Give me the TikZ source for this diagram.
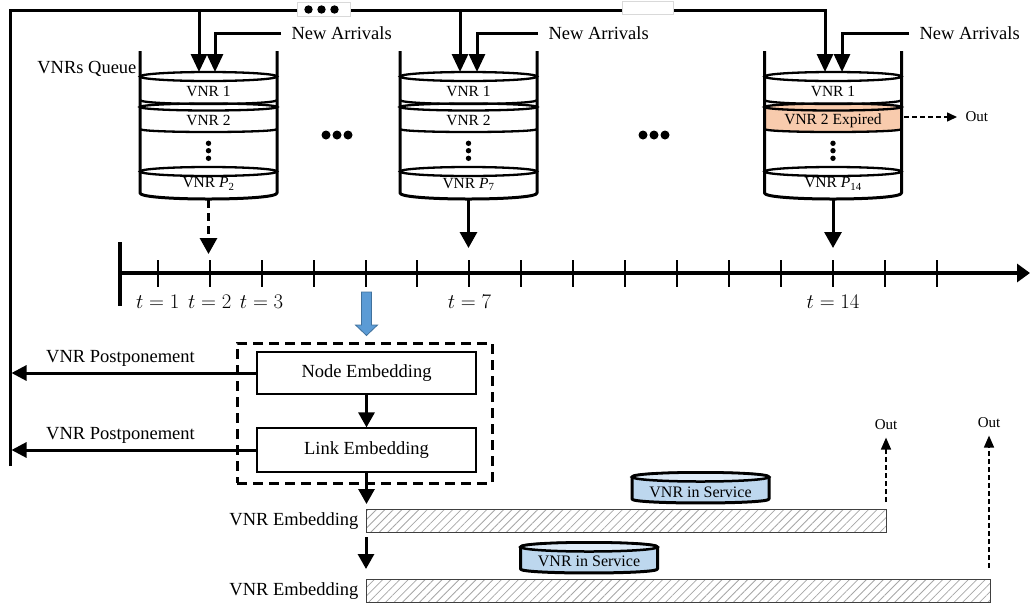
\documentclass[tikz,border=0pt]{standalone}
\usepackage{fontspec}
\setmainfont{Liberation Serif}
\usetikzlibrary{arrows.meta,patterns.meta}
\definecolor{peach}{HTML}{F8CBAD}
\definecolor{svcblue}{HTML}{BDD7EE}
\definecolor{svctop}{HTML}{DEEBF7}
\definecolor{arrblue}{HTML}{5B9BD5}
\definecolor{arrbluedark}{HTML}{41719C}
\newcommand{\fmain}{\fontsize{18.5}{21}\selectfont}
\newcommand{\fq}{\fontsize{15.5}{18}\selectfont}
\newcommand{\fsvc}{\fontsize{16}{18}\selectfont}
\newcommand{\fout}{\fontsize{15}{17}\selectfont}
\newcommand{\ftl}{\fontsize{19.5}{21}\selectfont}

\newcommand{\vnrqueue}[5]{%
\begin{scope}[shift={(#2,0)}]
 \fill[#4] (-68.5,107) .. controls (-68.5,102.3) and (68.5,102.3) .. (68.5,107) -- (68.5,129) .. controls (68.5,133) and (-68.5,133) .. (-68.5,129) -- cycle;
 \draw[disk] (0,76.5) ellipse[x radius=68.5,y radius=4.5];
 \draw[disk] (-68.5,100) .. controls (-68.5,105.3) and (68.5,105.3) .. (68.5,100);
 \draw[disk] (0,107) ellipse[x radius=68.5,y radius=3.5];
 \draw[disk] (-68.5,129) .. controls (-68.5,133) and (68.5,133) .. (68.5,129);
 \fill (0,143.3) circle[radius=2.7] (0,150.7) circle[radius=2.7] (0,158.3) circle[radius=2.7];
 \draw[disk] (0,171.5) ellipse[x radius=68.5,y radius=4.5];
 \draw[wall] (-68.5,51) -- (-68.5,193) .. controls (-68.5,201) and (68.5,201) .. (68.5,193) -- (68.5,51);
 \node[font=\fq] (#1v1) at (0,91.5) {VNR 1};
 \node[font=\fq] (#1v2) at (0,120.5) {#5};
 \node[font=\fq] (#1vp) at (0,184) {VNR \textit{P}\textsubscript{#3}};
 \coordinate (#1bot) at (0,200);
\end{scope}}

\newcommand{\svccyl}[4]{%
\begin{scope}[shift={(#2,#3)}]
 \filldraw[fill=svcblue, line width=3pt, line join=round] (-68.5,0) -- (-68.5,22) .. controls (-68.5,27.3) and (68.5,27.3) .. (68.5,22) -- (68.5,0) .. controls (68.5,-6) and (-68.5,-6) .. (-68.5,0) -- cycle;
 \draw[fill=svctop, line width=2.5pt] (0,0) ellipse[x radius=68.5,y radius=4.5];
 \node[font=\fsvc] (#1) at (0,#4) {VNR in Service};
\end{scope}}

\begin{document}
\begin{tikzpicture}[x=1pt,y=-1pt,
 wall/.style={line width=3pt,line join=round},
 disk/.style={line width=2.3pt},
 bigarr/.style={line width=3pt,-{Triangle[width=16pt,length=18pt]}},
 midarr/.style={line width=3pt,-{Triangle[width=16pt,length=15pt]}},
 outarr/.style={line width=1.5pt,dash pattern=on 5pt off 3pt,-{Triangle[width=10pt,length=12pt]}},
 box/.style={draw,line width=1.2pt,minimum width=219pt,font=\fmain},
 bar/.style={draw=black!75,line width=1.2pt,pattern={Lines[angle=45,distance=6pt,line width=0.8pt]},pattern color=black!35,minimum height=23pt,anchor=north west,inner sep=0pt},
 lbl/.style={font=\fmain},
 topbox/.style={draw=black!15,fill=white,line width=0.8pt,inner sep=0pt}]
\useasboundingbox (0,0) rectangle (1030,606);

% queues
\vnrqueue{qa}{208.5}{2}{white}{VNR 2}
\vnrqueue{qb}{468.5}{7}{white}{VNR 2}
\vnrqueue{qc}{833}{14}{peach}{VNR 2 Expired}
\node[lbl,anchor=east] (qlabel) at (140,69) {VNRs Queue};

% feedback loop
\coordinate (fbbot) at (10,466);
\coordinate (fbtl) at (10,10);
\coordinate (q1a) at (199,72);
\coordinate (q1b) at (215,72);
\coordinate (q2a) at (460,72);
\coordinate (q2b) at (477,72);
\coordinate (q3a) at (825,72);
\coordinate (q3b) at (842,72);
\draw[bigarr,line join=miter] (fbbot) -- (fbtl) -- (q3a |- fbtl) -- (q3a);
\draw[bigarr] (q1a |- fbtl) -- (q1a);
\draw[bigarr] (q2a |- fbtl) -- (q2a);
\node[topbox,minimum width=53pt,minimum height=14pt] (dotsbox) at (323.5,9) {};
\fill (308.5,9.5) circle[radius=4.2] (321.5,9.5) circle[radius=4.2] (334.5,9.5) circle[radius=4.2];
\node[topbox,minimum width=51pt,minimum height=13pt] (gapbox) at (647.5,7.5) {};

% new arrivals
\node[lbl,anchor=west] (na1) at (288,33) {New Arrivals};
\node[lbl,anchor=west] (na2) at (545,33) {New Arrivals};
\node[lbl,anchor=west] (na3) at (916,33) {New Arrivals};
\draw[bigarr,line join=miter] ([xshift=-7pt]na1.west) -| (q1b);
\draw[bigarr,line join=miter] ([xshift=-7pt]na2.west) -| (q2b);
\draw[bigarr,line join=miter] ([xshift=-7pt]na3.west) -| (q3b);

% dots between queues
\fill (326,135) circle[radius=4.5] (337,135) circle[radius=4.5] (348,135) circle[radius=4.5];
\fill (643,135) circle[radius=4.5] (654,135) circle[radius=4.5] (665,135) circle[radius=4.5];

% expired out
\node[font=\fout,anchor=west] (outx) at (962,117) {Out};
\coordinate (xs) at (904,117);
\draw[outarr,-{Triangle[width=9pt,length=10pt]},shorten >=5pt] (xs) -- (outx.west);

% timeline
\coordinate (tl0) at (120,273);
\coordinate (tlend) at (1030,273);
\draw[line width=4pt,-{Triangle[width=18pt,length=13pt]}] (tl0) -- (tlend);
\draw[line width=4pt] (120,242) -- (120,306);
\foreach \i in {1,...,16} \draw[line width=2pt] ({157.7+51.95*(\i-1)},260) -- ++(0,27);
\node[font=\ftl] (lt1) at (157.7,302) {$t=1$};
\node[font=\ftl] (lt2) at (209.65,302) {$t=2$};
\node[font=\ftl] (lt3) at (261.6,302) {$t=3$};
\node[font=\ftl] (lt7) at (469.4,302) {$t=7$};
\node[font=\ftl] (lt14) at (833.1,302) {$t=14$};

% queue to timeline
\coordinate (qatip) at (208.5,254);
\coordinate (qbtip) at (468.5,248);
\coordinate (qctip) at (833,248);
\draw[line width=3pt,dash pattern=on 8pt off 5pt,-{Triangle[width=17pt,length=16pt]}] (qabot) -- (qatip);
\draw[line width=3pt,-{Triangle[width=17pt,length=16pt]}] (qbbot) -- (qbtip);
\draw[line width=3pt,-{Triangle[width=17pt,length=16pt]}] (qcbot) -- (qctip);

% blue arrow
\filldraw[fill=arrblue,draw=arrbluedark,line width=0.8pt] (361.5,292) -- (371.5,292) -- (371.5,325) -- (377.5,325) -- (366.5,335.5) -- (355.5,325) -- (361.5,325) -- cycle;

% embedding block
\node[draw,line width=3pt,dash pattern=on 10pt off 6pt,minimum width=255pt,minimum height=140pt] (embbox) at (364.5,413) {};
\node[box,minimum height=42pt] (ne) at (366.5,373) {Node Embedding};
\node[box,minimum height=44pt] (le) at (366.5,450) {Link Embedding};
\draw[midarr] (ne) -- (le);
\coordinate (pp1) at (11.5,373);
\coordinate (pp2) at (11.5,450);
\draw[midarr,-{Triangle[width=15pt,length=15pt]}] (ne.west) -- (pp1);
\draw[midarr,-{Triangle[width=15pt,length=15pt]}] (le.west) -- (pp2);
\node[lbl] (ppl1) at (120.5,358) {VNR Postponement};
\node[lbl] (ppl2) at (120.5,435) {VNR Postponement};

% bars
\node[bar,minimum width=520pt] (bar1) at (366,509) {};
\node[bar,minimum width=624pt] (bar2) at (366,579) {};
\node[lbl,anchor=east] (emb1) at ([xshift=-4pt]bar1.west) {VNR Embedding};
\node[lbl,anchor=east] (emb2) at ([xshift=-4pt]bar2.west) {VNR Embedding};
\draw[midarr] (le.south) -- ([yshift=5pt]le.south |- bar1.north);
\coordinate (a2s) at (366,537);
\draw[midarr] (a2s) -- ([yshift=10pt]a2s |- bar2.north);

% in-service cylinders
\svccyl{svc1}{700.5}{477}{15}
\svccyl{svc2}{589}{547}{14}

% outs
\node[font=\fout] (out1) at (886,425) {Out};
\node[font=\fout] (out2) at (989,423) {Out};
\coordinate (o1s) at (886,502);
\coordinate (o2s) at (989,568);
\draw[outarr,shorten >=4pt] (o1s) -- (out1.south);
\draw[outarr,shorten >=4pt] (o2s) -- (out2.south);
\end{tikzpicture}
\end{document}
